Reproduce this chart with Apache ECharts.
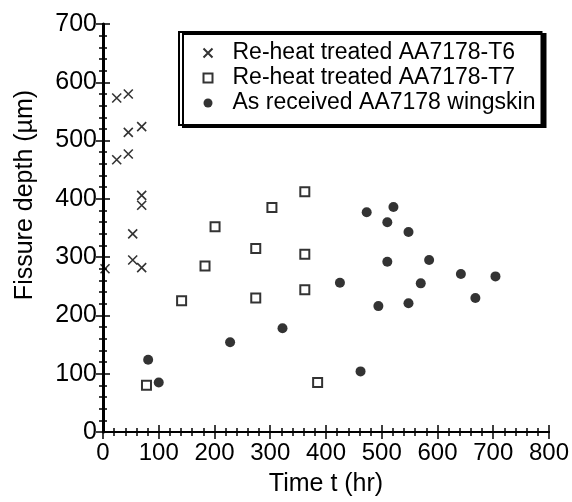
<!DOCTYPE html>
<html>
<head>
<meta charset="utf-8">
<script src="https://cdn.jsdelivr.net/npm/echarts@6/dist/echarts.min.js"></script>
<style>html,body{margin:0;padding:0;background:#fff}#c{width:572px;height:502px}</style>
</head>
<body>
<div id="c"></div>
<script>
// Re-heat treated AA7178-T6
var t6Time  = [3.6, 24.6, 24.6, 45.4, 45.4, 45.4, 53.3, 53.3, 69.4, 69.4, 69.4, 69.4];
var t6Depth = [280, 573, 467, 580, 514, 477, 340, 295, 524, 406, 389, 282];
// Re-heat treated AA7178-T7
var t7Time  = [78, 141, 183, 201, 274, 274, 303, 362, 362, 362, 385];
var t7Depth = [80, 225, 285, 352, 315, 230, 385, 412, 305, 244, 85];
// As received AA7178 wingskin
var wsTime  = [81, 100, 228, 322, 425, 462, 473, 494, 510, 510, 521, 548, 548, 570, 585, 642, 668, 704];
var wsDepth = [124, 85, 154, 178, 256, 104, 377, 216, 360, 292, 386, 343, 221, 255, 295, 271, 230, 267];

var seriesNames = ['Re-heat treated AA7178-T6', 'Re-heat treated AA7178-T7', 'As received AA7178 wingskin'];
var xTitle = 'Time t (hr)';
var yTitle = 'Fissure depth (\u00b5m)';

function pairs(xs, ys) { return xs.map(function (x, i) { return [x, ys[i]]; }); }

var FONT = 'Liberation Sans, Arial, Helvetica, sans-serif';
var axisCommon = {
  axisLine: { show: true, lineStyle: { color: '#000', width: 2 } },
  axisTick: { show: true, inside: true, length: 7, lineStyle: { color: '#000', width: 1.5 } },
  minorTick: { show: true, splitNumber: 5, length: 4, lineStyle: { color: '#000', width: 1.5 } },
  splitLine: { show: false }
};
function ax(o) { return Object.assign({}, JSON.parse(JSON.stringify(axisCommon)), o); }

var chart = echarts.init(document.getElementById('c'), null, { renderer: 'canvas' });
chart.setOption({
  animation: false,
  backgroundColor: '#fff',
  grid: { left: 103, right: 23, top: 24, bottom: 69, containLabel: false },
  xAxis: [
    ax({ type: 'value', min: 0, max: 800, interval: 100, position: 'bottom',
      name: xTitle, nameLocation: 'middle', nameGap: 40,
      nameTextStyle: { color: '#000', fontSize: 25, fontFamily: FONT },
      axisLabel: { color: '#000', fontSize: 24, fontFamily: FONT, margin: 9 } }),
    ax({ type: 'value', min: 0, max: 800, interval: 100, position: 'top',
      axisLabel: { show: false } })
  ],
  yAxis: [
    ax({ type: 'value', min: 0, max: 700, interval: 100, position: 'left',
      name: yTitle, nameLocation: 'middle', nameGap: 65, nameRotate: 90,
      nameTextStyle: { color: '#000', fontSize: 25, fontFamily: FONT, padding: [0, 0, 0, 66] },
      axisLabel: { color: '#000', fontSize: 25, fontFamily: FONT, margin: 6 } }),
    ax({ type: 'value', min: 0, max: 700, interval: 100, position: 'right',
      axisLine: { show: true, lineStyle: { color: '#000', width: 3 } },
      axisLabel: { show: false } })
  ],
  legend: {
    orient: 'vertical',
    left: 179, top: 32,
    padding: [9, 6, 10, 22],
    itemWidth: 9, itemHeight: 9, itemGap: 1,
    backgroundColor: '#fff',
    borderColor: '#000', borderWidth: 2,
    shadowColor: '#000', shadowBlur: 0, shadowOffsetX: 4, shadowOffsetY: 2,
    textStyle: { color: '#000', fontSize: 23, fontFamily: FONT, lineHeight: 24, padding: [0, 0, 0, 15] },
    data: seriesNames
  },
  series: [
    { name: seriesNames[0], type: 'scatter', data: pairs(t6Time, t6Depth),
      symbol: 'path://M0,0L10,10M10,0L0,10', symbolSize: 9,
      itemStyle: { color: 'none', borderColor: '#000', borderWidth: 1.6 } },
    { name: seriesNames[1], type: 'scatter', data: pairs(t7Time, t7Depth),
      symbol: 'rect', symbolSize: 9,
      itemStyle: { color: '#fff', borderColor: '#000', borderWidth: 2 } },
    { name: seriesNames[2], type: 'scatter', data: pairs(wsTime, wsDepth),
      symbol: 'circle', symbolSize: 10,
      itemStyle: { color: '#000' } }
  ]
});
</script>
</body>
</html>
